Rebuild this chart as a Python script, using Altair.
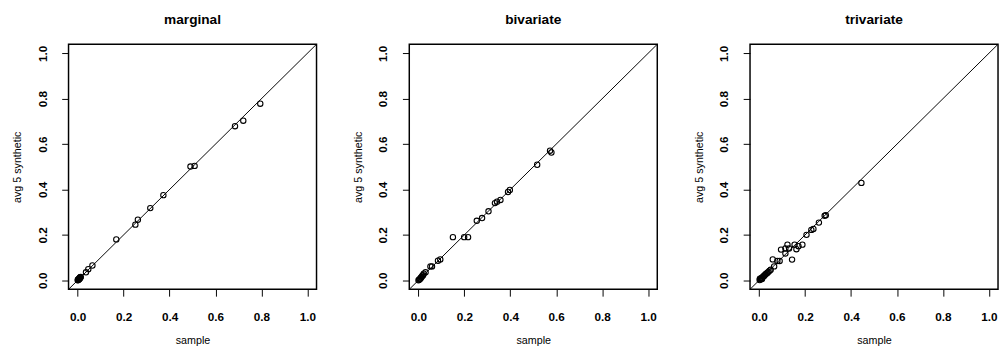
import altair as alt
import pandas as pd

# ---------------- data ----------------
marginal_sample = [0.000, 0.001, 0.002, 0.003, 0.004, 0.005, 0.006, 0.007, 0.008, 0.009,
                   0.010, 0.011, 0.012, 0.013, 0.036, 0.046, 0.064, 0.168, 0.251, 0.262,
                   0.316, 0.373, 0.491, 0.509, 0.685, 0.721, 0.795]
marginal_synth = [0.000, 0.002, 0.001, 0.004, 0.003, 0.006, 0.005, 0.008, 0.007, 0.010,
                  0.011, 0.013, 0.012, 0.015, 0.035, 0.049, 0.065, 0.180, 0.245, 0.267,
                  0.318, 0.375, 0.501, 0.504, 0.679, 0.703, 0.778]

bivariate_sample = [0.000, 0.003, 0.006, 0.009, 0.011, 0.014, 0.017, 0.020, 0.023, 0.031,
                    0.052, 0.059, 0.085, 0.095, 0.150, 0.199, 0.216, 0.254, 0.277, 0.305,
                    0.333, 0.342, 0.357, 0.390, 0.398, 0.517, 0.573, 0.579]
bivariate_synth = [0.000, 0.002, 0.006, 0.008, 0.012, 0.015, 0.020, 0.022, 0.029, 0.035,
                   0.061, 0.061, 0.086, 0.092, 0.190, 0.190, 0.190, 0.262, 0.274, 0.304,
                   0.340, 0.346, 0.354, 0.389, 0.398, 0.509, 0.571, 0.563]

trivariate_sample = [0.002, 0.003, 0.005, 0.008, 0.010, 0.012, 0.013, 0.016, 0.019, 0.022,
                     0.025, 0.028, 0.032, 0.036, 0.040, 0.045, 0.050, 0.059, 0.065, 0.079,
                     0.089, 0.095, 0.114, 0.114, 0.123, 0.130, 0.143, 0.154, 0.162, 0.171,
                     0.188, 0.206, 0.227, 0.236, 0.260, 0.285, 0.290, 0.445]
trivariate_synth = [0.001, 0.007, 0.004, 0.006, 0.010, 0.005, 0.011, 0.015, 0.018, 0.020,
                    0.024, 0.027, 0.030, 0.033, 0.037, 0.042, 0.046, 0.092, 0.061, 0.085,
                    0.085, 0.135, 0.118, 0.140, 0.157, 0.140, 0.091, 0.157, 0.137, 0.150,
                    0.157, 0.200, 0.222, 0.226, 0.254, 0.284, 0.287, 0.429]

panel_titles = ["marginal", "bivariate", "trivariate"]
tick_values = [0.0, 0.2, 0.4, 0.6, 0.8, 1.0]
diag_ends = [-0.04, 1.04]

FONT = "Liberation Sans"


def panel(title, xs, ys):
    df = pd.DataFrame({"sample": xs, "synthetic": ys})
    diag = pd.DataFrame({"sample": diag_ends, "synthetic": diag_ends})
    sc = alt.Scale(domain=[-0.04, 1.04], nice=False, zero=False)
    xax = alt.Axis(values=tick_values, format=".1f", title="sample",
                   labelPadding=16, titlePadding=12)
    yax = alt.Axis(values=tick_values, format=".1f", title="avg 5 synthetic",
                   labelAngle=270, labelAlign="center", labelBaseline="bottom",
                   labelPadding=13, titlePadding=14)
    line = alt.Chart(diag).mark_line(color="black", strokeWidth=1, clip=True).encode(
        x=alt.X("sample:Q", scale=sc, axis=xax),
        y=alt.Y("synthetic:Q", scale=sc, axis=yax),
    )
    pts = alt.Chart(df).mark_point(shape="circle", filled=False, color="black",
                                   size=30, strokeWidth=1.1, opacity=1, clip=True).encode(
        x=alt.X("sample:Q", scale=sc),
        y=alt.Y("synthetic:Q", scale=sc),
    )
    return alt.layer(line, pts).properties(
        width=254, height=251,
        title=alt.TitleParams(title, fontSize=14, fontWeight="bold", font=FONT,
                              anchor="middle", color="black", offset=18),
    )


chart = alt.hconcat(
    panel(panel_titles[0], marginal_sample, marginal_synth),
    panel(panel_titles[1], bivariate_sample, bivariate_synth),
    panel(panel_titles[2], trivariate_sample, trivariate_synth),
    spacing=35,
).properties(
    padding={"left": 3, "top": 0, "right": 0, "bottom": 0},
    background="white",
).configure_view(
    stroke="black", strokeWidth=1.5
).configure_axis(
    grid=False, domain=False, ticks=True, tickColor="black", tickSize=7, tickWidth=1,
    labelFont=FONT, labelFontSize=12, labelFontWeight="bold", labelColor="black",
    labelFlush=False, labelOverlap=False,
    titleFont=FONT, titleFontSize=11, titleFontWeight="normal", titleColor="black",
)

chart.save("out.html", embed_options={"renderer": "svg", "actions": False})
